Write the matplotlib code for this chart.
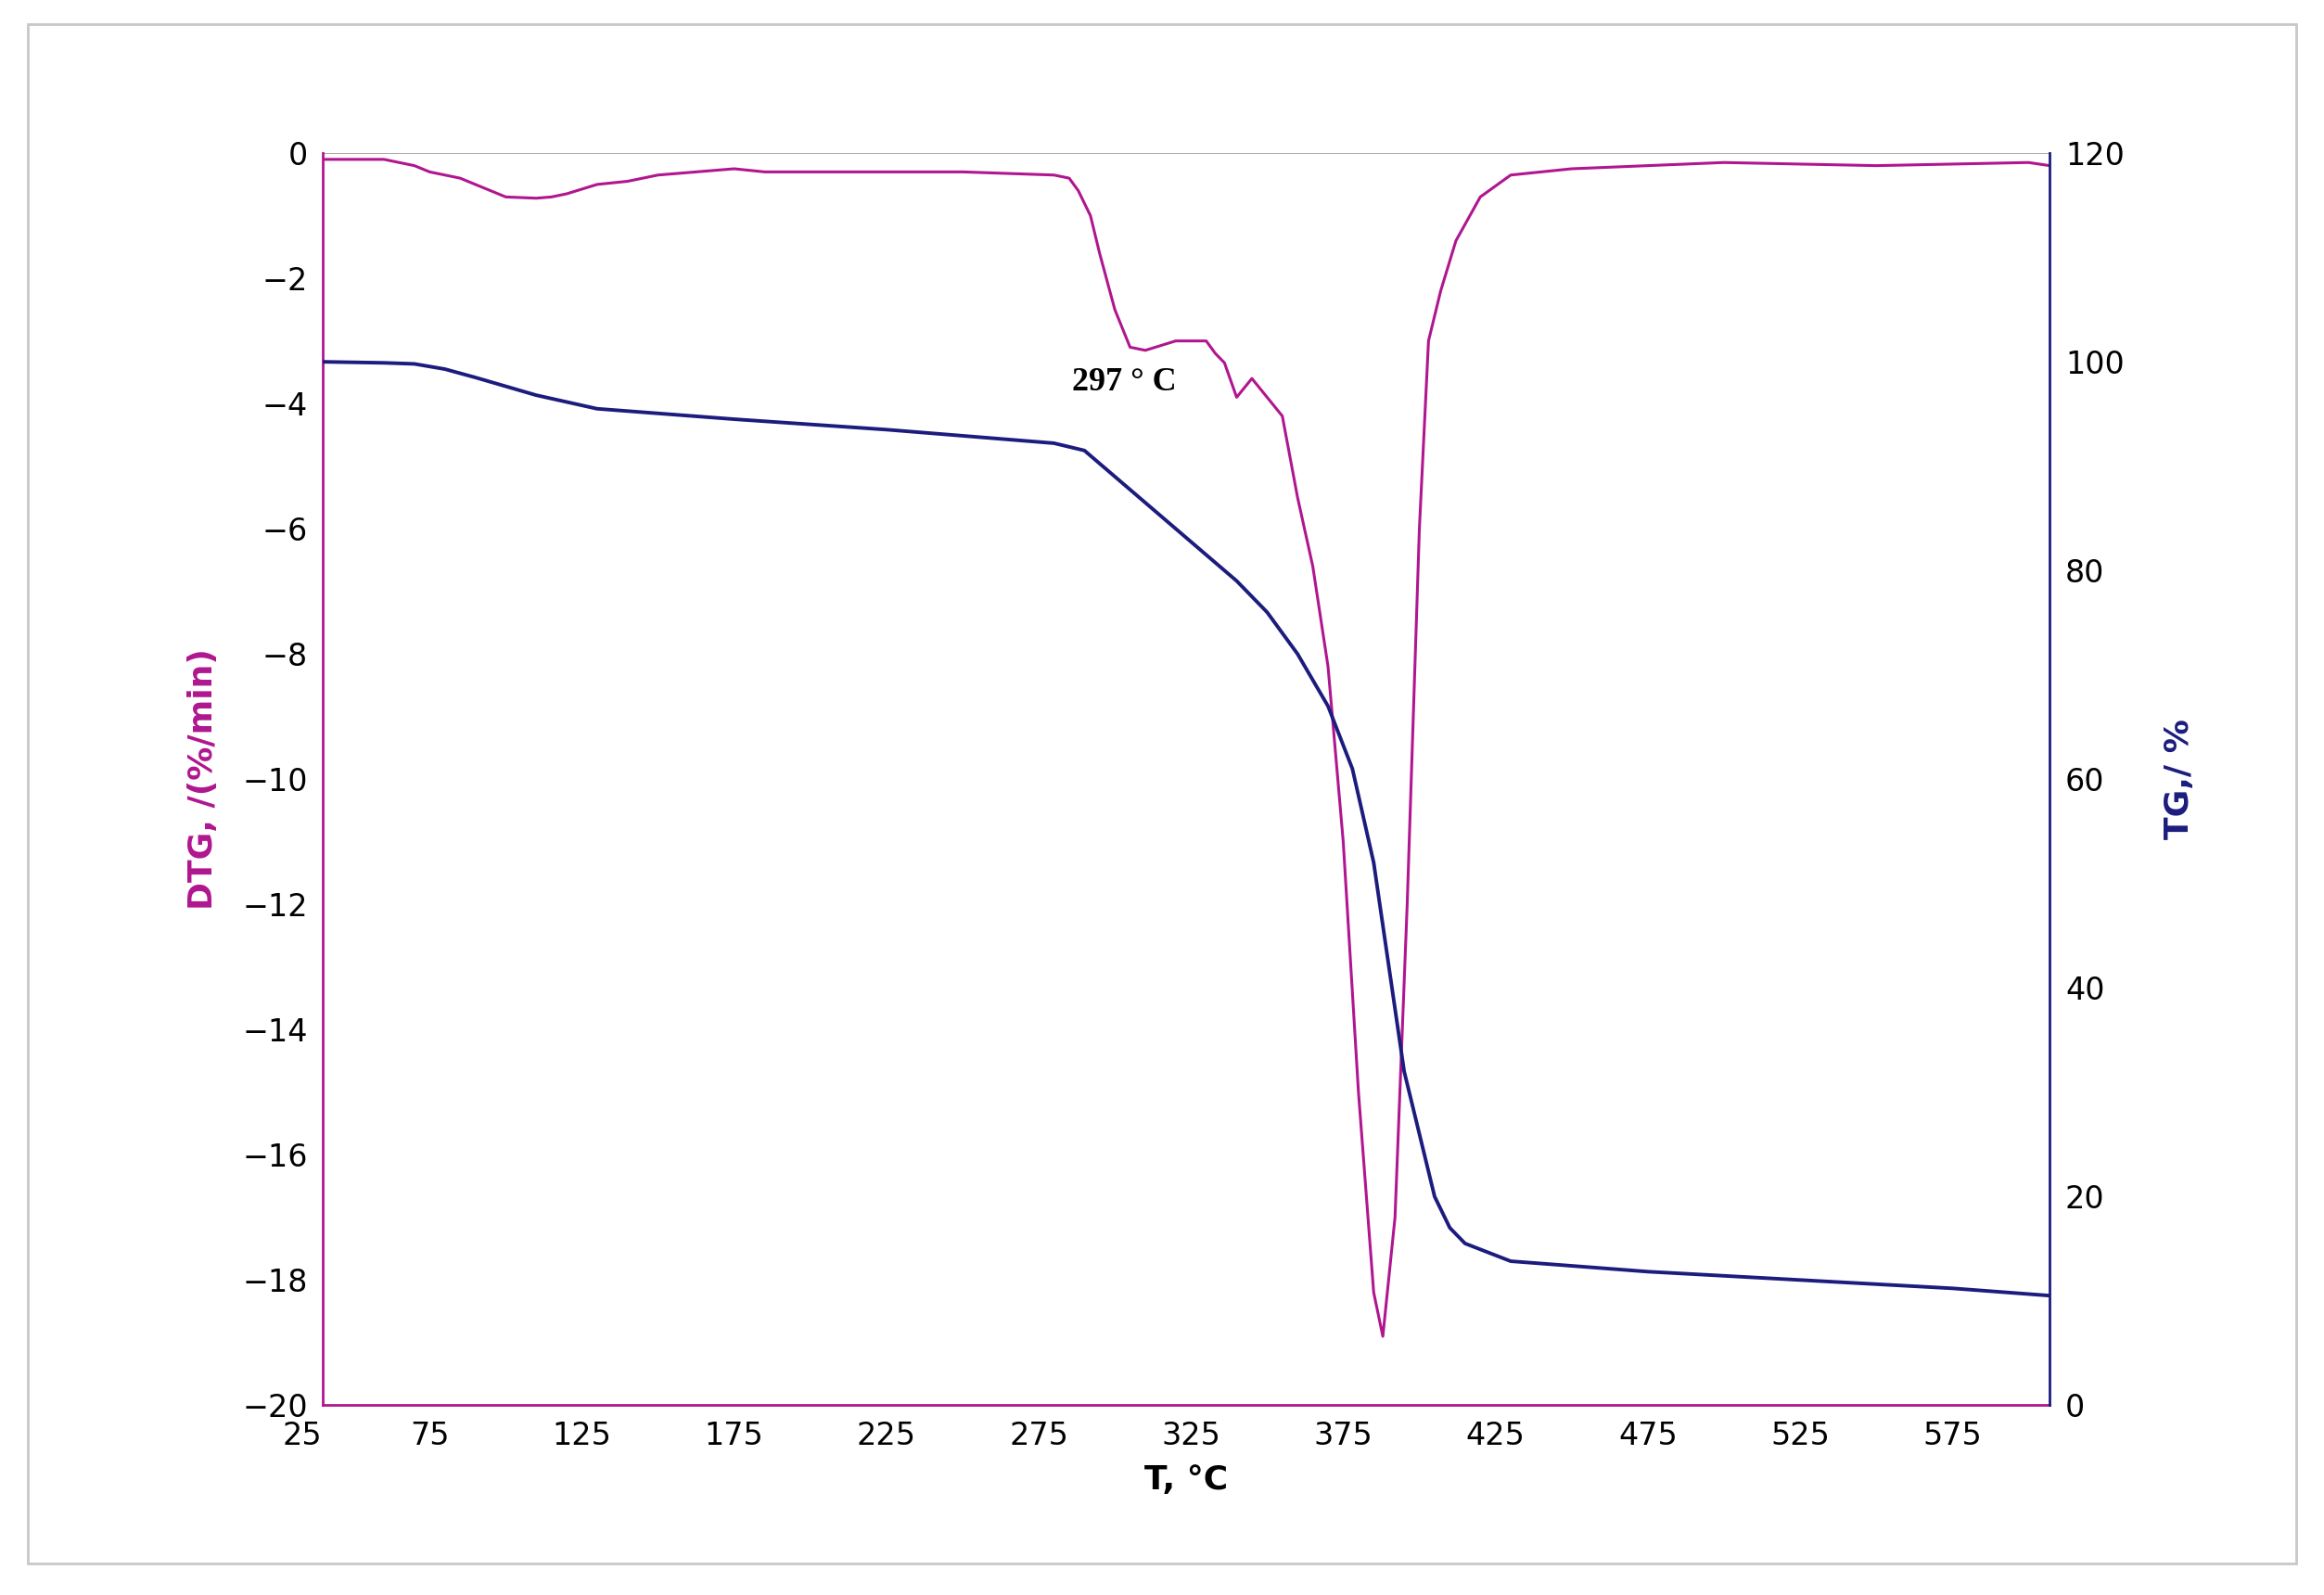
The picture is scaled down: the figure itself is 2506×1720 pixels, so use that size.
import matplotlib
matplotlib.use("Agg")
import matplotlib.pyplot as plt
from matplotlib.patches import Rectangle

dtg_T = [40,50,60,70,75,85,90,100,110,115,120,130,140,150,175,185,200,250,280,285,288,292,295,300,305,310,320,330,333,336,340,345,350,355,360,365,370,375,380,385,388,392,396,400,403,407,412,420,430,450,500,550,600,607]
dtg_v = [-0.1,-0.1,-0.1,-0.2,-0.3,-0.4,-0.5,-0.7,-0.72,-0.7,-0.65,-0.5,-0.45,-0.35,-0.25,-0.3,-0.3,-0.3,-0.35,-0.4,-0.6,-1.0,-1.6,-2.5,-3.1,-3.15,-3.0,-3.0,-3.2,-3.35,-3.9,-3.6,-3.9,-4.2,-5.5,-6.6,-8.2,-11.0,-15.0,-18.2,-18.9,-17.0,-12.0,-6.0,-3.0,-2.2,-1.4,-0.7,-0.35,-0.25,-0.15,-0.2,-0.15,-0.2]
tg_T = [40,60,70,80,90,110,130,175,225,280,290,300,320,340,350,360,370,378,385,390,395,400,405,410,415,430,475,525,575,607]
tg_v = [100,99.9,99.8,99.3,98.5,96.8,95.5,94.5,93.5,92.2,91.5,89,84,79,76,72,67,61,52,42,32,26,20,17,15.5,13.8,12.8,12.0,11.2,10.5]
xticks = [75,125,175,225,275,325,375,425,475,525,575]

mag = "#B0168F"; navy = "#1C1C7E"
fig = plt.figure(figsize=(25.06,17.20), dpi=100)
fig.patches.append(Rectangle((0.012,0.02),0.976,0.965,transform=fig.transFigure,fill=False,edgecolor="#c8c8c8",lw=2))
ax = fig.add_axes([0.139,0.119,0.743,0.785])
ax.plot(dtg_T, dtg_v, color=mag, lw=2.2)
ax.set_xlim(40,607); ax.set_ylim(-20,0)
ax.set_yticks(range(-20,1,2))
ax.set_yticklabels([str(v).replace('-','\u2212') for v in range(-20,1,2)])
ax.set_xticks(xticks)
ax.text(33,-20.25,"25",ha='center',va='top',fontsize=24)
ax.tick_params(labelsize=24, length=0, pad=12)
ax.axhline(0,color="#999999",lw=1.2)
for s in ['top','right']: ax.spines[s].set_visible(False)
ax.spines['left'].set_color(mag); ax.spines['left'].set_linewidth(2)
ax.spines['bottom'].set_color(mag); ax.spines['bottom'].set_linewidth(2)
ax.set_xlabel("T, °C", fontsize=26, fontweight='bold', labelpad=10)
ax.set_ylabel("DTG, /(%/min)", fontsize=26, fontweight='bold', color=mag, labelpad=18)
ax.text(303,-3.67,"297 ° C",fontsize=26,fontweight='bold',family='Liberation Serif',ha='center',va='center')
ax2 = ax.twinx()
ax2.plot(tg_T, tg_v, color=navy, lw=2.8)
ax2.set_ylim(0,120); ax2.set_yticks(range(0,121,20))
ax2.tick_params(labelsize=24, length=0, pad=12)
for s in ['top','left','bottom']: ax2.spines[s].set_visible(False)
ax2.spines['right'].set_color(navy); ax2.spines['right'].set_linewidth(2)
ax2.set_ylabel("TG,/ %", fontsize=26, fontweight='bold', color=navy, labelpad=30)
fig.savefig("out.png", dpi=100)
